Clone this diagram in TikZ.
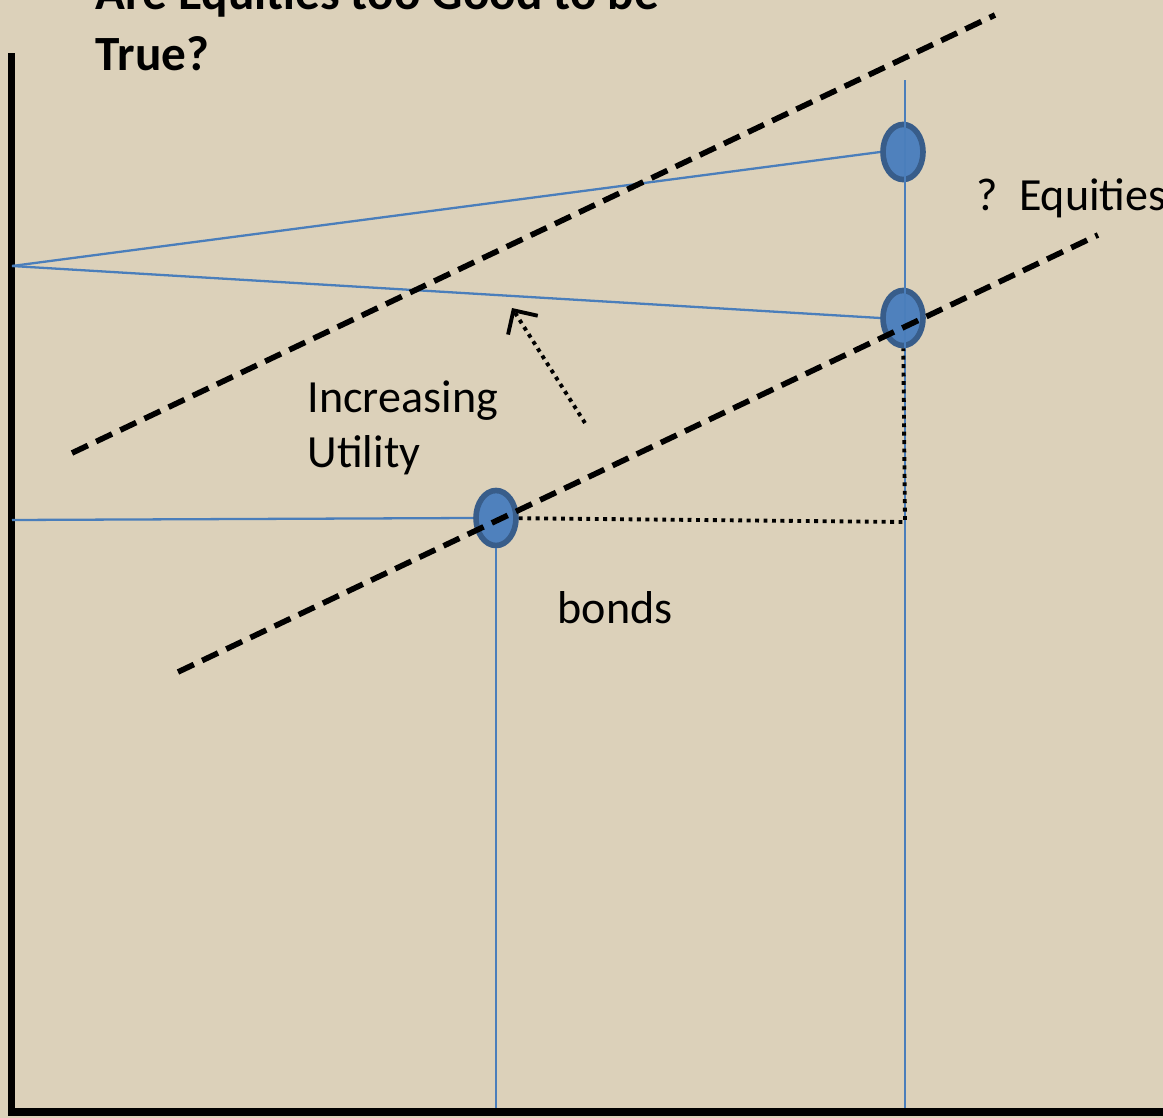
\documentclass[tikz,border=0pt]{standalone}
\usepackage{fontspec}
\setmainfont{Carlito}
\usepackage{xcolor}
\usepackage{tikz}
\usetikzlibrary{shapes.geometric, arrows.meta, positioning}

\definecolor{bgtan}{RGB}{220,209,186}
\definecolor{dotblue}{RGB}{79,129,189}
\definecolor{dotedge}{RGB}{56,93,138}
\definecolor{lineblue}{RGB}{74,126,187}

\begin{document}
\begin{tikzpicture}[
  x=0.01cm, y=-0.01cm,
  point/.style={ellipse, draw=dotedge, line width=1.6pt, fill=dotblue,
    minimum width=0.40cm, minimum height=0.55cm, inner sep=0pt},
  thin/.style={lineblue, line width=0.65pt},
  axis/.style={black, line width=2pt},
  indiff/.style={black, line width=1.6pt, dash pattern=on 5pt off 2.6pt},
  dotline/.style={black, line width=1.1pt, dash pattern=on 1.1pt off 1.3pt},
  utilarrow/.style={dotline, -{Straight Barb[length=5pt, width=10pt, line width=1.1pt]}},
  label/.style={inner sep=0pt, anchor=base west, font=\fontsize{13.1}{15.6}\selectfont},
]

\useasboundingbox[fill=bgtan] (0,0) rectangle (1163,1118);

\node[label, align=left, anchor=south west,
  font=\bfseries\fontsize{14}{17.6}\selectfont] (title) at (95,72)
  {Are Equities too Good to be\\True?};

% axes
\draw[axis] (11.5,53) -- (11.5,1112) -- (1163,1112);

% portfolios
\node[point] (eqhi) at (903,152) {};
\node[point] (eqlo) at (903,318) {};
\node[point] (bnd) at (496,518) {};

\coordinate (pivot) at (12,266);
\coordinate (bleft) at (12,520);
\coordinate (eqtop) at (905,80);
\coordinate (eqbot) at (905,1108);
\coordinate (bbot) at (496,1108);
\coordinate (kink) at (905,522);

\draw[thin] (eqtop) -- (eqbot);
\draw[thin] (bnd) -- (bbot);
\draw[thin] (pivot) -- (eqhi.west);
\draw[thin] (pivot) -- (eqlo.west);
\draw[thin] (bleft) -- (bnd.west);

\draw[dotline] (bnd) -- (kink) -- (eqlo);

% indifference lines
\coordinate (hiA) at (72,453);
\coordinate (hiB) at (995,15);
\coordinate (loA) at (178,672);
\coordinate (loB) at (1098,235);
\draw[indiff] (hiA) -- (hiB);
\draw[indiff] (loA) -- (loB);

\coordinate (arrtail) at (585,423);
\coordinate (arrtip) at (512,308);
\draw[utilarrow] (arrtail) -- (arrtip);

\node[label, align=left] (util) at (307,467) {Increasing\\Utility};
\node[label] (bonds) at (557,623) {bonds};
\node[label] (equities) at (976,210) {?\hspace{6pt}Equities};
\end{tikzpicture}
\end{document}
